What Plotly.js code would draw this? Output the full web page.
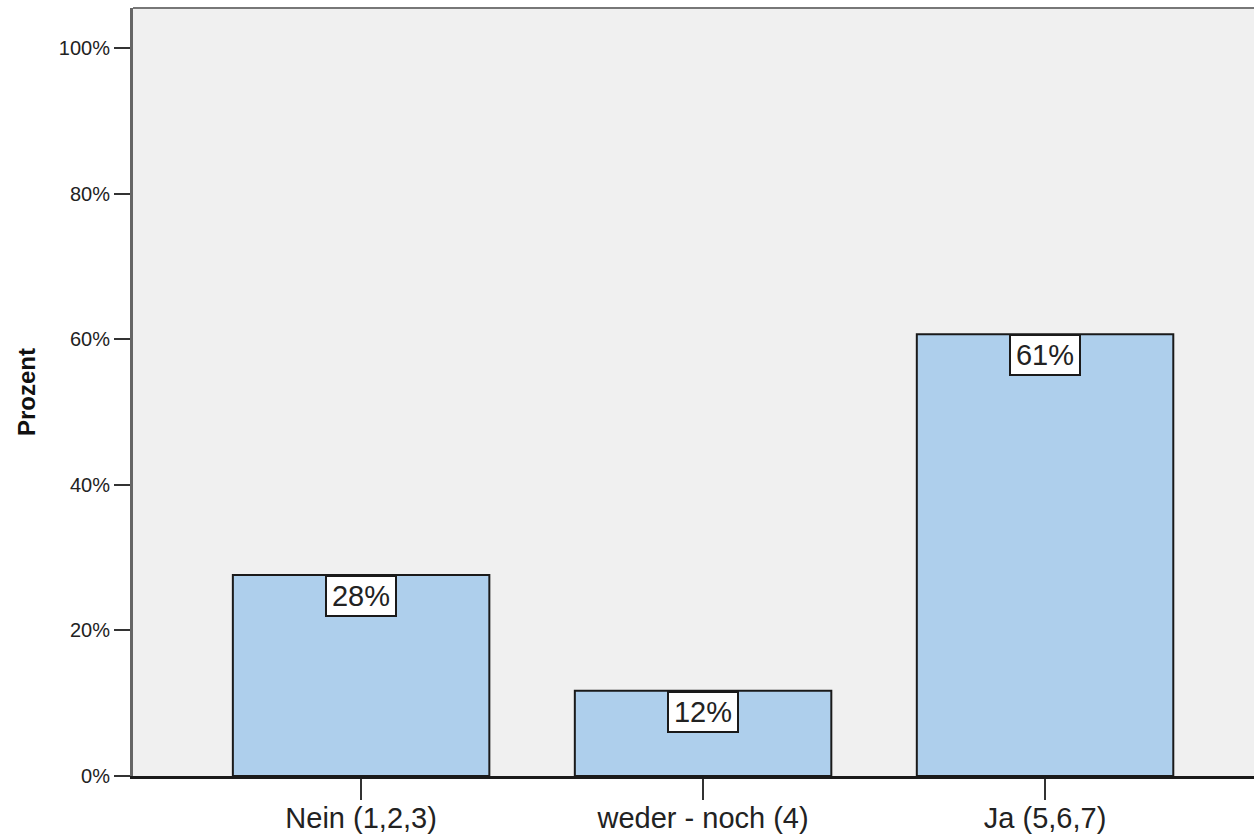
<!DOCTYPE html>
<html>
<head>
<meta charset="utf-8">
<script src="https://cdn.plot.ly/plotly-3.0.1.min.js"></script>
<style>
  html, body { margin: 0; padding: 0; background: #ffffff; }
  #chart { width: 1254px; height: 839px; }
</style>
</head>
<body>
<div id="chart"></div>
<script>
// Answer categories and their shares (percent)
const categories = ['Nein (1,2,3)', 'weder - noch (4)', 'Ja (5,6,7)'];
const percentValues = [27.6, 11.7, 60.7];
const yTickValues = [0, 20, 40, 60, 80, 100];

const barColor = 'rgb(174,207,236)';
const font = 'Liberation Sans, Arial, sans-serif';

const bars = {
  type: 'bar',
  x: categories,
  y: percentValues,
  marker: { color: barColor, line: { color: '#1a1a1a', width: 2 } },
  hoverinfo: 'skip'
};

// Boxed value labels hanging from each bar top
const labels = categories.map((c, i) => ({
  x: c,
  y: percentValues[i],
  xref: 'x',
  yref: 'y',
  yanchor: 'top',
  text: Math.round(percentValues[i]) + '%',
  showarrow: false,
  font: { family: font, size: 29, color: '#222' },
  bgcolor: '#ffffff',
  bordercolor: '#1a1a1a',
  borderwidth: 2,
  borderpad: 2,
  width: 64,
  height: 34
}));

const layout = {
  width: 1254,
  height: 839,
  margin: { l: 133, r: 0, t: 8, b: 63 },
  paper_bgcolor: '#ffffff',
  plot_bgcolor: '#f0f0f0',
  bargap: 0.25,
  showlegend: false,
  font: { family: font, color: '#222' },
  xaxis: {
    type: 'category',
    range: [-0.667, 2.611],
    showgrid: false,
    zeroline: false,
    showline: true,
    linecolor: '#1a1a1a',
    linewidth: 3,
    ticks: 'outside',
    ticklen: 21,
    tickwidth: 2,
    tickcolor: '#333',
    ticklabelstandoff: -7,
    tickfont: { family: font, size: 29, color: '#222' },
    fixedrange: true
  },
  yaxis: {
    range: [0, 105.5],
    tickvals: yTickValues,
    ticktext: yTickValues.map(v => v + '%'),
    showgrid: false,
    zeroline: false,
    showline: true,
    linecolor: '#666',
    linewidth: 3,
    ticks: 'outside',
    ticklen: 16,
    tickwidth: 2,
    tickcolor: '#333',
    tickfont: { family: font, size: 20, color: '#222' },
    title: {
      text: '<b>Prozent</b>',
      font: { family: font, size: 24, color: '#111' },
      standoff: 17
    },
    fixedrange: true
  },
  shapes: [{
    type: 'line',
    xref: 'paper', yref: 'paper',
    x0: 0, x1: 1, y0: 1, y1: 1,
    line: { color: '#777', width: 2 }
  }],
  annotations: labels
};

Plotly.newPlot('chart', [bars], layout, { displayModeBar: false, staticPlot: true });
</script>
</body>
</html>
